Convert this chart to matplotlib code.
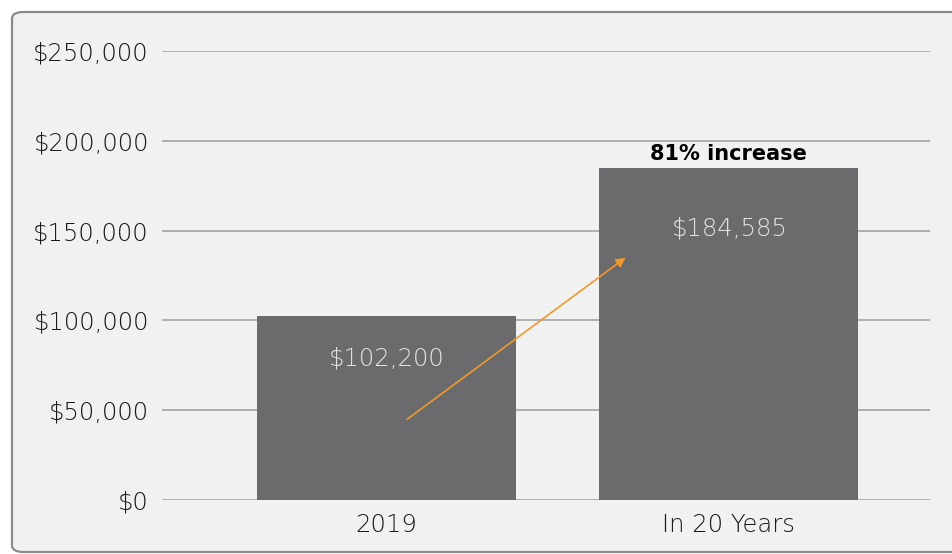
import matplotlib.pyplot as plt
from matplotlib.patches import FancyBboxPatch
from matplotlib.ticker import FuncFormatter

categories = ["2019", "In 20 Years"]
values = [102200, 184585]
value_labels = ["$102,200", "$184,585"]
y_ticks = [0, 50000, 100000, 150000, 200000, 250000]
note = "81% increase"

BG = "#f0f1f0"
BAR = "#6b6b6d"
ORANGE = "#ef9a2e"

fig = plt.figure(figsize=(9.52, 5.54), dpi=100)
fig.patch.set_facecolor("white")

box = FancyBboxPatch((12 / 952, 1 - 552 / 554), 960 / 952, 540 / 554,
                     boxstyle="round,pad=0,rounding_size=0.012",
                     transform=fig.transFigure, facecolor=BG,
                     edgecolor="#8a8a8a", linewidth=1.6, zorder=-5)
fig.patches.append(box)

ax = fig.add_axes([162 / 952, 1 - 500 / 554, 768 / 952, 449 / 554])
ax.set_facecolor("none")
ax.set_zorder(2)

x = range(len(categories))
ax.bar(x, values, width=0.756, color=BAR, zorder=3)

ax.set_xlim(-0.655, 1.587)
ax.set_ylim(0, 250000)
ax.set_yticks(y_ticks)
ax.yaxis.set_major_formatter(FuncFormatter(lambda v, p: f"${v:,.0f}"))
ax.set_xticks(list(x))
ax.set_xticklabels(categories)
ax.grid(axis="y", color="#a3a3a3", linewidth=1.2, zorder=1)
ax.set_axisbelow(True)
for s in ax.spines.values():
    s.set_visible(False)
ax.tick_params(length=0, labelsize=17.5, labelcolor="#1a1a1a")
ax.tick_params(axis="y", pad=10)
ax.tick_params(axis="x", pad=9)
for lab in ax.get_xticklabels() + ax.get_yticklabels():
    lab.set_family("DejaVu Sans")
    lab.set_fontweight("light")

# labels inside the bars
offsets = [-42, -60]
for i, (v, t) in enumerate(zip(values, value_labels)):
    ax.annotate(t, (i, v), xytext=(0, offsets[i]), textcoords="offset pixels",
                ha="center", va="center", fontsize=17.5, color="#e2e2e2",
                family="DejaVu Sans", fontweight="light", zorder=4)

ax.annotate(note, (1, values[1]), xytext=(0, 14), textcoords="offset pixels",
            ha="center", va="center", fontsize=15, fontweight="bold",
            family="DejaVu Sans", color="black", zorder=4)

ax.annotate("", xy=(0.705, 135900), xytext=(0.054, 44000),
            arrowprops=dict(arrowstyle="-|>", color=ORANGE, lw=1.2,
                            mutation_scale=14),
            zorder=5)

fig.savefig("out.png", dpi=100)
